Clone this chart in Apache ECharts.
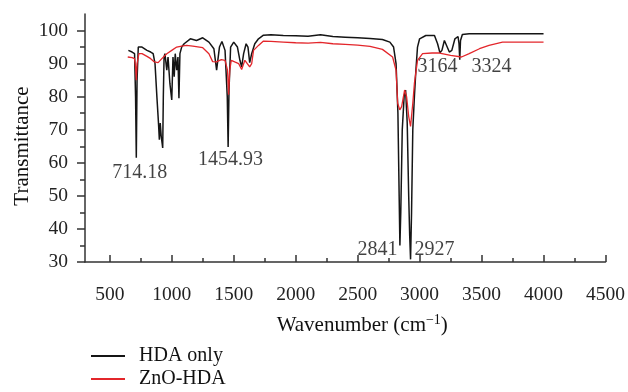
<!DOCTYPE html>
<html>
<head>
<meta charset="utf-8">
<script src="https://cdn.jsdelivr.net/npm/echarts@6/dist/echarts.min.js"></script>
<style>
  html, body { margin: 0; padding: 0; background: #fff; }
  #chart { width: 628px; height: 392px; }
</style>
</head>
<body>
<div id="chart"></div>
<script>
// FTIR spectra, values
const hdaWn = [650, 680, 700, 708, 714, 720, 730, 760, 800, 830, 850, 865, 880, 893, 900, 907, 915, 922, 927, 932, 938,
  945, 960, 970, 985, 1000, 1010, 1020, 1028, 1040, 1050, 1058, 1066, 1080, 1100, 1150, 1200, 1250, 1300,
  1340, 1362, 1385, 1405, 1430, 1448, 1455, 1462, 1475, 1500, 1530, 1550, 1564, 1580, 1600, 1615, 1629, 1645, 1670, 1700, 1740,
  1800, 1900, 2000, 2100, 2200, 2300, 2400, 2500, 2600, 2700, 2760, 2790, 2810, 2825, 2835, 2841, 2848, 2860, 2875, 2887,
  2900, 2912, 2920, 2927, 2935, 2945, 2958, 2970, 2983, 3000, 3050, 3120, 3145, 3164, 3180, 3200, 3215, 3240, 3260, 3285,
  3310, 3318, 3324, 3330, 3345, 3400, 3600, 3800, 4000];
const hdaT = [94, 93.5, 93, 80, 61.5, 85, 95, 95, 94, 93.5, 93, 90, 80, 72, 67, 72, 68, 66, 64.5, 80, 92,
  93, 88, 92, 84, 79, 92, 86, 93, 88, 92, 79.5, 93, 95, 96, 97.5, 97, 97.8, 96.5,
  94.5, 88, 95, 96.7, 94, 80, 64.8, 82, 95, 96.5, 95, 91, 89, 93, 96, 95, 90.3, 93, 96, 97.5, 98.6,
  98.7, 98.5, 98.4, 98.3, 98.7, 98.2, 98, 97.8, 97.6, 97.3, 96.5, 95, 90, 75, 50, 35, 45, 70, 80, 82,
  72, 50, 38, 30.8, 45, 70, 80, 88, 95, 97.5, 98.5, 98.5, 96, 93.3, 94, 97, 96.5, 93.5, 94, 97.5,
  98.2, 96, 91.2, 97, 98.8, 99, 99, 99, 99];

const znoWn = [645, 680, 700, 708, 714, 720, 735, 760, 800, 830, 860, 890, 920, 960, 1000, 1040, 1080, 1120, 1170, 1250,
  1300, 1330, 1360, 1400, 1430, 1450, 1459, 1468, 1480, 1508, 1540, 1564, 1590, 1605, 1629, 1645, 1660, 1700, 1740,
  1800, 1900, 2000, 2100, 2200, 2300, 2400, 2500, 2600, 2700, 2782, 2810, 2823, 2840, 2855, 2879, 2895, 2912, 2927,
  2945, 2958, 2983, 3024, 3100, 3161, 3250, 3338, 3400, 3483, 3560, 3669, 3800, 4000];
const znoT = [92, 91.8, 91.5, 89, 85, 90, 93, 93, 92.2, 91.5, 90.5, 90.3, 91.5, 93, 94, 95, 95.3, 95.5, 95.3, 94.8,
  93, 90.6, 90.5, 91.2, 91, 88, 80.6, 88, 91, 90.5, 90, 88.2, 91, 91.5, 89, 90, 94, 95.5, 96.8,
  96.7, 96.5, 96.3, 96.2, 96.4, 96, 95.8, 95.6, 95.2, 94.3, 92, 88, 78, 76, 77, 82, 80, 74, 71,
  78, 84, 91, 93, 93.2, 93.2, 92.5, 92, 93, 94.5, 95.5, 96.5, 96.5, 96.5];

const xTicks = [500, 1000, 1500, 2000, 2500, 3000, 3500, 4000, 4500];
const xMinor = [750, 1250, 1750, 2250, 2750, 3250, 3750, 4250];
const yTicks = [30, 40, 50, 60, 70, 80, 90, 100];
const yMinor = [35, 45, 55, 65, 75, 85, 95];

// peak annotations: text and where the text sits (data units)
const peakText = ['714.18', '1454.93', '2841', '2927', '3164', '3324'];
const peakWn = [742, 1475, 2661, 3121, 3145, 3581];
const peakT = [56.9, 61, 33.6, 33.6, 89, 89];

const serif = '"Liberation Serif", "DejaVu Serif", serif';
const axisColor = '#333';

const chart = echarts.init(document.getElementById('chart'));

const legendCommon = {
  orient: 'vertical',
  left: 86,
  icon: 'rect',
  itemWidth: 34,
  itemHeight: 2,
  itemGap: 4,
  textStyle: { fontFamily: serif, fontSize: 20, color: '#111', lineHeight: 22, padding: [0, 0, 0, 9] }
};

const option = {
  animation: false,
  grid: { left: 85, right: 21, top: 14, bottom: 130 },
  legend: [
    Object.assign({ data: ['HDA only'], top: 340 }, legendCommon),
    Object.assign({ data: ['ZnO-HDA'], top: 363 }, legendCommon)
  ],
  xAxis: [
    {
      type: 'value', min: 300, max: 4500,
      name: 'Wavenumber (cm{sup|−1})',
      nameLocation: 'middle',
      nameGap: 51,
      nameTextStyle: {
        fontFamily: serif, fontSize: 21, color: '#111', padding: [0, 0, 0, 34],
        rich: { sup: { fontFamily: serif, fontSize: 14, verticalAlign: 'top', padding: [0, 0, 10, 0] } }
      },
      axisLine: { show: true, lineStyle: { color: axisColor, width: 1.5 } },
      axisTick: { show: true, inside: true, length: 7, customValues: xTicks, lineStyle: { color: axisColor, width: 1.5 } },
      axisLabel: { customValues: xTicks, margin: 23, fontFamily: serif, fontSize: 19.5, color: '#222', formatter: (v) => String(v) },
      splitLine: { show: false }
    },
    {
      type: 'value', min: 300, max: 4500, position: 'bottom',
      axisLine: { show: false },
      axisTick: { show: true, inside: true, length: 4, customValues: xMinor, lineStyle: { color: axisColor, width: 1.5 } },
      axisLabel: { show: false },
      splitLine: { show: false }
    }
  ],
  yAxis: [
    {
      type: 'value', min: 30, max: 105,
      name: 'Transmittance',
      nameLocation: 'middle',
      nameGap: 52,
      nameMoveOverlap: false,
      nameTextStyle: { fontFamily: serif, fontSize: 21, color: '#111', padding: [0, 16, 0, 0] },
      axisLine: { show: true, lineStyle: { color: axisColor, width: 1.5 } },
      axisTick: { show: true, length: 8, customValues: yTicks, lineStyle: { color: axisColor, width: 1.5 } },
      axisLabel: { customValues: yTicks, margin: 17, fontFamily: serif, fontSize: 19.5, color: '#222', formatter: (v) => String(v) },
      splitLine: { show: false }
    },
    {
      type: 'value', min: 30, max: 105, position: 'left',
      axisLine: { show: false },
      axisTick: { show: true, length: 5, customValues: yMinor, lineStyle: { color: axisColor, width: 1.5 } },
      axisLabel: { show: false },
      splitLine: { show: false }
    }
  ],
  series: [
    {
      name: 'HDA only',
      type: 'line',
      showSymbol: false,
      color: '#151515',
      lineStyle: { color: '#151515', width: 1.5 },
      data: hdaWn.map((w, i) => [w, hdaT[i]])
    },
    {
      name: 'ZnO-HDA',
      type: 'line',
      showSymbol: false,
      color: '#e3262b',
      lineStyle: { color: '#e3262b', width: 1.3 },
      data: znoWn.map((w, i) => [w, znoT[i]])
    },
    {
      name: 'peaks',
      type: 'scatter',
      symbolSize: 0,
      silent: true,
      label: {
        show: true,
        position: 'inside',
        formatter: (p) => peakText[p.dataIndex],
        fontFamily: serif,
        fontSize: 20,
        color: '#111'
      },
      data: peakWn.map((w, i) => [w, peakT[i]])
    }
  ]
};

chart.setOption(option);
</script>
</body>
</html>
